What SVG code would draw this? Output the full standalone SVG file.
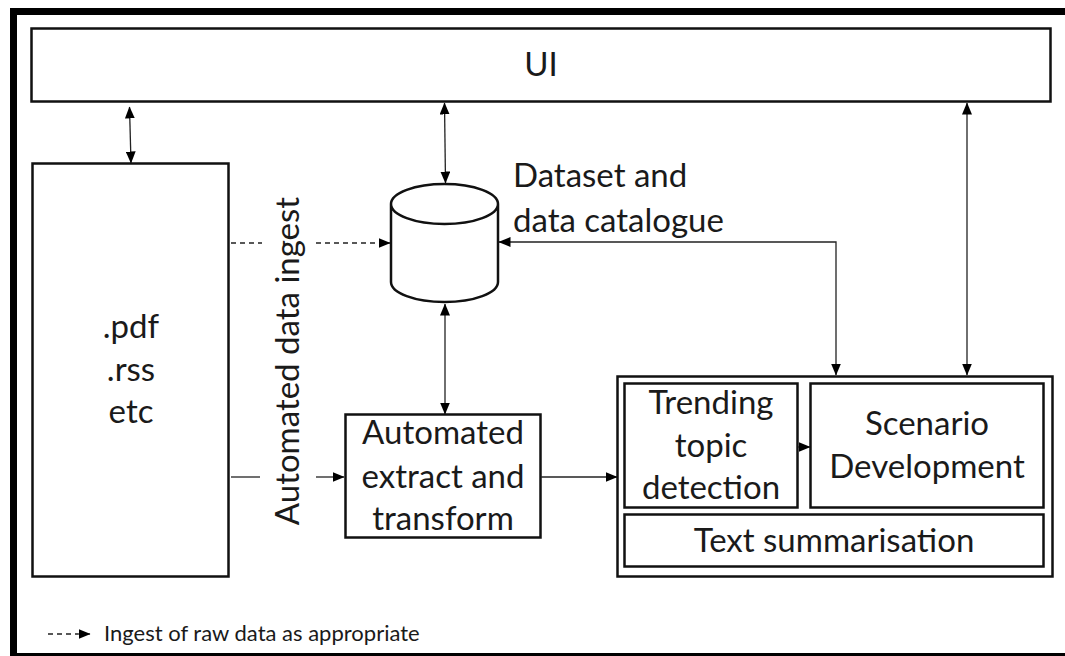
<svg xmlns="http://www.w3.org/2000/svg" width="1065" height="656" viewBox="0 0 1065 656">
<style>
.b{fill:#fff;stroke:#111;stroke-width:2.5}
.c{fill:none;stroke:#222;stroke-width:1.3}
.d{stroke-dasharray:5 4}
text{font-family:Lato,"Carlito","Liberation Sans",sans-serif;fill:#1a1a1a;font-size:33px;text-anchor:middle}
</style>
<defs>
<marker id="a" viewBox="0 0 12 10" refX="11.5" refY="5" markerWidth="12" markerHeight="10" markerUnits="userSpaceOnUse" orient="auto-start-reverse"><path d="M0 0L12 5L0 10z" fill="#000"/></marker>
</defs>
<rect width="1065" height="656" fill="#fff"/>
<g id="frame"><path d="M1065 11.500H13.500V656.500H1065" fill="none" stroke="#000" stroke-width="7"/></g>
<g id="ui"><rect class="b" x="31.500" y="28.500" width="1019" height="73"/><text x="541" y="76">UI</text></g>
<g id="sources"><rect class="b" x="32.500" y="163.500" width="196" height="413"/><text x="131" y="338">.pdf</text><text x="131" y="381">.rss</text><text x="131" y="423">etc</text></g>
<g id="ingest-label"><text transform="translate(299 361) rotate(-90)">Automated data ingest</text></g>
<g id="dataset"><path class="b" d="M391 204V282C391 293 415 302 444.500 302S498 293 498 282V204C498 193 474 184 444.500 184S391 193 391 204C391 215 415 224 444.500 224S498 215 498 204"/><text x="513" y="187" style="text-anchor:start">Dataset and</text><text x="513" y="232" style="text-anchor:start">data catalogue</text></g>
<g id="extract"><rect class="b" x="345.500" y="414.500" width="195" height="123"/><text x="443" y="444">Automated</text><text x="443" y="488">extract and</text><text x="443" y="530">transform</text></g>
<g id="analysis"><rect class="b" x="617.500" y="376.500" width="435" height="200"/></g>
<g id="trending"><rect class="b" x="624.500" y="383.500" width="173" height="124"/><text x="711" y="414">Trending</text><text x="711" y="457">topic</text><text x="711" y="499">detection</text></g>
<g id="scenario"><rect class="b" x="810.500" y="383.500" width="233" height="124"/><text x="927" y="435">Scenario</text><text x="927" y="478">Development</text></g>
<g id="summary"><rect class="b" x="624.500" y="514.500" width="419" height="52"/><text x="834" y="552">Text summarisation</text></g>
<g id="connectors">
<path class="c" d="M129.500 107L131 163" marker-start="url(#a)" marker-end="url(#a)"/>
<path class="c" d="M444.500 103L445.500 183" marker-start="url(#a)" marker-end="url(#a)"/>
<path class="c" d="M967 103V375" marker-start="url(#a)" marker-end="url(#a)"/>
<path class="c" d="M445 304V414" marker-start="url(#a)" marker-end="url(#a)"/>
<path class="c" d="M499 242H836V375" marker-start="url(#a)" marker-end="url(#a)"/>
<path class="c d" d="M231 243H262"/>
<path class="c d" d="M316 243H390" marker-end="url(#a)"/>
<path class="c" d="M231 477H260"/>
<path class="c" d="M316 477H344" marker-end="url(#a)"/>
<path class="c" d="M541 477H617" marker-end="url(#a)"/>
<path class="c" d="M798 447H810" marker-end="url(#a)"/>
<path class="c d" d="M48 634H78"/>
<path class="c" d="M78 634H90" marker-end="url(#a)"/>
</g>
<g id="legend"><text x="104" y="641" style="font-size:22px;text-anchor:start">Ingest of raw data as appropriate</text></g>
</svg>
